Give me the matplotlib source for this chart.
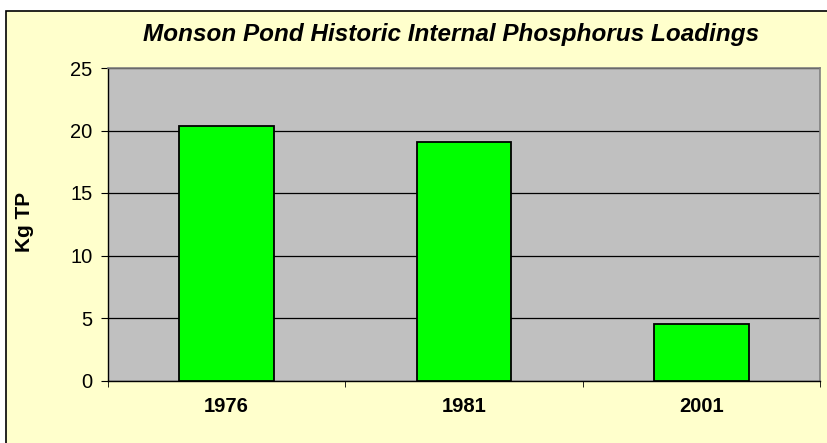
import matplotlib
matplotlib.use("Agg")
import matplotlib.pyplot as plt
from matplotlib.patches import Rectangle
import numpy as np

categories = ["1976", "1981", "2001"]
values = [20.4, 19.1, 4.5]
yticks = [0, 5, 10, 15, 20, 25]

plt.rcParams['font.family'] = ['Liberation Sans', 'DejaVu Sans']

W, H = 827, 443
fig = plt.figure(figsize=(W/100, H/100), dpi=100)
fig.patch.set_facecolor("white")

# chart area background with border (right/bottom extend beyond image)
bg = Rectangle((6/W, -0.1), 1.2, 1 - 11/H + 0.1, transform=fig.transFigure,
               facecolor="#FFFFCC", edgecolor="black", linewidth=1.2, zorder=-10)
fig.patches.append(bg)

left, right, top, bottom = 108, 820, 68, 380.5
ax = fig.add_axes([left/W, 1 - bottom/H, (right-left)/W, (bottom-top)/H])
ax.set_zorder(5)
ax.set_facecolor("#C0C0C0")

x = np.arange(len(categories))
ax.bar(x, values, width=0.4, color="#00FF00", edgecolor="black", linewidth=1.3, zorder=3)

ax.set_xlim(-0.5, len(categories) - 0.5)
ax.set_ylim(0, 25)
ax.set_yticks(yticks)
ax.set_yticklabels([str(t) for t in yticks], fontsize=14.5)
ax.yaxis.grid(True, color="black", linewidth=0.9, zorder=1)
ax.set_axisbelow(True)

ax.set_xticks(x)
ax.set_xticklabels(categories, fontsize=14.5, fontweight="bold")
ax.tick_params(axis="x", length=0, pad=12)
ax.set_xticks(np.arange(len(categories) + 1) - 0.5, minor=True)
ax.tick_params(axis="x", which="minor", length=4, color="black", direction="out")
ax.tick_params(axis="y", length=5, color="black", direction="out", pad=6)

for s in ["top", "right"]:
    ax.spines[s].set_color("#808080")
    ax.spines[s].set_linewidth(1.2)
for s in ["left", "bottom"]:
    ax.spines[s].set_color("black")
    ax.spines[s].set_linewidth(1.0)

yl = fig.text(24.5/W, 1 - 222/H, "Kg TP", rotation=90, ha="center", va="center",
              fontsize=15, fontweight="bold")
yl.set_zorder(6)

t = fig.text(451/W, 1 - 35/H, "Monson Pond Historic Internal Phosphorus Loadings",
             ha="center", va="center", fontsize=17.5, fontweight="bold", style="italic")
t.set_zorder(6)

fig.savefig("out.png", dpi=100, facecolor=fig.get_facecolor())
